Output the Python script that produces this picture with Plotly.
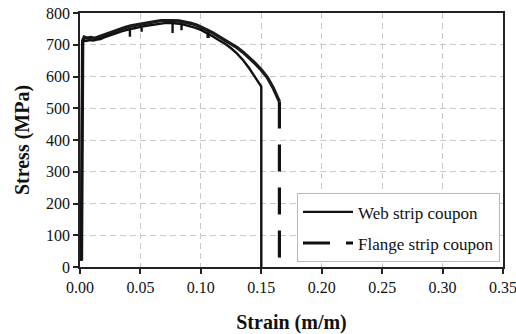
import plotly.graph_objects as go

# Web strip coupon (strain m/m, stress MPa)
web_strain = [0.0010, 0.0012, 0.0015, 0.0018, 0.0020, 0.0030, 0.0050, 0.0080, 0.0110, 0.0140,
              0.0170, 0.0200, 0.0250, 0.0300, 0.0350, 0.0400, 0.0413, 0.0413, 0.0413, 0.0450,
              0.0500, 0.0510, 0.0510, 0.0510, 0.0550, 0.0600, 0.0650, 0.0700, 0.0750, 0.0766,
              0.0766, 0.0766, 0.0800, 0.0840, 0.0840, 0.0840, 0.0850, 0.0900, 0.0950, 0.1000,
              0.1050, 0.1100, 0.1150, 0.1200, 0.1250, 0.1300, 0.1350, 0.1400, 0.1450, 0.1500,
              0.1500]
web_stress = [20, 300, 500, 640, 700, 714, 712, 715, 713, 716,
              718, 723, 730, 737, 743, 748, 749, 725, 749, 752,
              756, 757, 741, 757, 760, 763, 766, 768, 768, 768,
              737, 768, 767, 765, 746, 765, 764, 760, 754, 747,
              737, 726, 714, 703, 689, 672, 651, 626, 597, 568,
              0]

# Flange strip coupon: curve and final drop
flange_strain = [0.0012, 0.0014, 0.0017, 0.0022, 0.0035, 0.0060, 0.0090, 0.0120, 0.0150, 0.0180,
                 0.0220, 0.0270, 0.0320, 0.0370, 0.0420, 0.0470, 0.0520, 0.0570, 0.0620, 0.0670,
                 0.0720, 0.0770, 0.0820, 0.0870, 0.0920, 0.0970, 0.1000, 0.1050, 0.1060, 0.1060,
                 0.1060, 0.1100, 0.1150, 0.1200, 0.1250, 0.1300, 0.1350, 0.1400, 0.1450, 0.1500,
                 0.1550, 0.1600, 0.1650]
flange_stress = [20, 400, 630, 712, 724, 721, 723, 720, 724, 728,
                 735, 742, 748, 754, 759, 763, 767, 770, 773, 776,
                 777, 776, 775, 772, 767, 761, 756, 747, 745, 721,
                 745, 737, 726, 715, 704, 691, 676, 659, 641, 621,
                 597, 563, 521]
flange_drop_strain = [0.1650, 0.1650]
flange_drop_stress = [521, 0]

x_ticks = [0.00, 0.05, 0.10, 0.15, 0.20, 0.25, 0.30, 0.35]
x_tick_labels = ["0.00", "0.05", "0.10", "0.15", "0.20", "0.25", "0.30", "0.35"]
y_ticks = [0, 100, 200, 300, 400, 500, 600, 700, 800]

serif = "Liberation Serif"

fig = go.Figure()
fig.add_trace(go.Scatter(x=flange_strain, y=flange_stress, mode="lines",
                         line=dict(color="#1a1a1a", width=3.4),
                         showlegend=False, hoverinfo="skip"))
fig.add_trace(go.Scatter(x=web_strain, y=web_stress, mode="lines",
                         name="Web strip coupon", legendgroup="a",
                         line=dict(color="#111111", width=2.4)))
fig.add_trace(go.Scatter(x=flange_drop_strain, y=flange_drop_stress, mode="lines",
                         name="Flange strip coupon", legendgroup="b",
                         line=dict(color="#111111", width=3.2, dash="27px,16px")))

grid = dict(showgrid=True, gridcolor="#c8c8c8", griddash="6px,4px", gridwidth=1)

fig.update_layout(
    width=516, height=334,
    margin=dict(l=80, r=13, t=13, b=67),
    paper_bgcolor="white", plot_bgcolor="white",
    font=dict(family=serif, color="#111111", size=16),
    showlegend=True,
    legend=dict(x=0.513, y=0.29, xanchor="left", yanchor="top",
                bgcolor="white", bordercolor="#b8b8b8", borderwidth=1,
                font=dict(family=serif, size=17, color="#111111"),
                itemwidth=50, tracegroupgap=6),
    xaxis=dict(range=[0, 0.35], tickvals=x_ticks, ticktext=x_tick_labels,
               ticks="outside", ticklen=5, tickwidth=1.5, tickcolor="#222",
               showline=True, linecolor="#222", linewidth=1.5, mirror=True,
               zeroline=False, automargin=False, ticklabeloverflow="allow",
               tickfont=dict(family=serif, size=16, color="#111"),
               title=dict(text="<b>Strain (m/m)</b>", standoff=21,
                          font=dict(family=serif, size=20, color="#111")),
               **grid),
    yaxis=dict(range=[0, 800], tickvals=y_ticks,
               ticks="outside", ticklen=5, tickwidth=1.5, tickcolor="#222",
               showline=True, linecolor="#222", linewidth=1.5, mirror=True,
               zeroline=False, automargin=False, ticklabeloverflow="allow",
               tickfont=dict(family=serif, size=16, color="#111"),
               title=dict(text="<b>Stress (MPa)</b>", standoff=11,
                          font=dict(family=serif, size=20, color="#111")),
               **grid),
)

fig.write_html("out.html", config={"displayModeBar": False},
               post_script="document.body.style.margin='0px';")
